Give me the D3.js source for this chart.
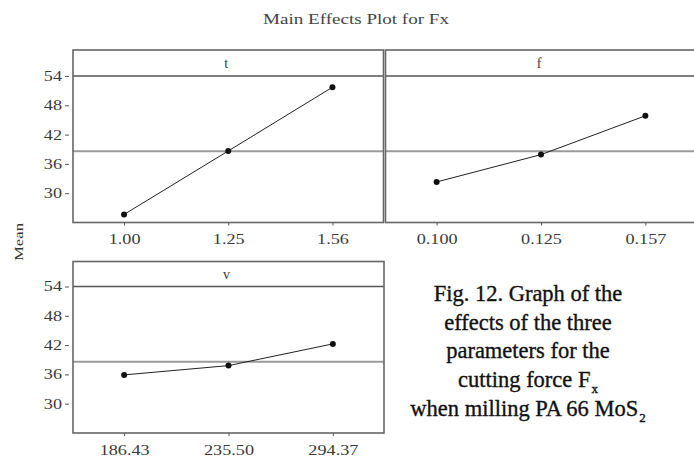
<!DOCTYPE html>
<html>
<head>
<meta charset="utf-8">
<script src="https://cdn.jsdelivr.net/npm/d3@7"></script>
<style>
  html, body { margin: 0; padding: 0; background: #fff; }
  svg { display: block; }
  text { font-family: "Liberation Serif", "Times New Roman", serif; }
</style>
</head>
<body>
<svg id="chart" width="694" height="461"></svg>
<script>
// Factor levels and fitted means for the cutting force Fx
const factorNames = ["t", "f", "v"];
const tLevels = ["1.00", "1.25", "1.56"];
const tMeans = [25.65, 38.65, 51.7];
const fLevels = ["0.100", "0.125", "0.157"];
const fMeans = [32.3, 37.9, 45.85];
const vLevels = ["186.43", "235.50", "294.37"];
const vMeans = [35.9, 37.8, 42.25];
const yTicks = [30, 36, 42, 48, 54];
const grandMean = 38.6;
const yDomain = [24, 54];

const captionLines = [
  ["Fig. 12. Graph of the"],
  ["effects of the three"],
  ["parameters for the"],
  ["cutting force F", "x"],
  ["when milling PA 66 MoS", "2"]
];

const svg = d3.select("#chart");

// Panel frames: each holds one factor
const panels = [
  { name: factorNames[0], levels: tLevels, means: tMeans, x: 73, y: 50, w: 310.5, h: 172.5, strip: 26, showY: true },
  { name: factorNames[1], levels: fLevels, means: fMeans, x: 385.5, y: 50, w: 311, h: 172.5, strip: 26, showY: false },
  { name: factorNames[2], levels: vLevels, means: vMeans, x: 73, y: 261.5, w: 311, h: 171.5, strip: 25, showY: true }
];

const tickScale = 1.3;

panels.forEach(p => {
  const g = svg.append("g");
  const bottom = p.y + p.h;
  const stripBottom = p.y + p.strip;

  const x = d3.scalePoint().domain(p.levels).range([p.x, p.x + p.w]).padding(0.49);
  const y = d3.scaleLinear().domain(yDomain).range([bottom, stripBottom]);

  // grand-mean reference line
  g.append("line")
    .attr("x1", p.x).attr("x2", p.x + p.w)
    .attr("y1", y(grandMean)).attr("y2", y(grandMean))
    .attr("stroke", "#9a9a9a").attr("stroke-width", 2);

  // strip separator
  g.append("line")
    .attr("x1", p.x).attr("x2", p.x + p.w)
    .attr("y1", stripBottom).attr("y2", stripBottom)
    .attr("stroke", "#555").attr("stroke-width", 1.4);

  // panel frame
  g.append("rect")
    .attr("x", p.x).attr("y", p.y)
    .attr("width", p.w).attr("height", p.h)
    .attr("fill", "none").attr("stroke", "#666").attr("stroke-width", 1.6);

  // strip label
  g.append("text")
    .attr("x", p.x + p.w / 2 - 2).attr("y", p.y + p.strip / 2 + 5)
    .attr("text-anchor", "middle")
    .attr("font-size", 14).attr("fill", "#3a3a3a")
    .text(p.name);

  // x axis
  const xa = g.append("g")
    .attr("transform", `translate(0,${bottom})`)
    .call(d3.axisBottom(x).tickSize(3).tickPadding(9));
  xa.select(".domain").remove();
  xa.selectAll(".tick line").attr("stroke", "#555");
  xa.selectAll(".tick text")
    .attr("font-family", "Liberation Serif, serif")
    .attr("font-size", 14).attr("fill", "#3a3a3a")
    .attr("transform", `scale(${tickScale},1)`);

  // y axis
  if (p.showY) {
    const ya = g.append("g")
      .attr("transform", `translate(${p.x},0)`)
      .call(d3.axisLeft(y).tickValues(yTicks).tickSize(4).tickPadding(7));
    ya.select(".domain").remove();
    ya.selectAll(".tick line").attr("stroke", "#555").attr("x1", -8).attr("x2", -4);
    ya.selectAll(".tick text")
      .attr("font-family", "Liberation Serif, serif")
      .attr("font-size", 14).attr("fill", "#3a3a3a")
      .attr("x", -11 / tickScale)
      .attr("transform", `scale(${tickScale},1)`);
  }

  // mean line and points
  const pts = p.levels.map((lv, i) => [x(lv), y(p.means[i])]);
  g.append("path")
    .attr("d", d3.line()(pts))
    .attr("fill", "none").attr("stroke", "#222").attr("stroke-width", 1);
  g.selectAll("circle.pt").data(pts).join("circle")
    .attr("class", "pt")
    .attr("cx", d => d[0]).attr("cy", d => d[1])
    .attr("r", 3).attr("fill", "#111");
});

// title
svg.append("text")
  .attr("x", 356).attr("y", 24)
  .attr("text-anchor", "middle")
  .attr("font-size", 14).attr("fill", "#444")
  .attr("textLength", 186).attr("lengthAdjust", "spacingAndGlyphs")
  .text("Main Effects Plot for Fx");

// y-axis title
svg.append("text")
  .attr("transform", "translate(23,242) rotate(-90)")
  .attr("text-anchor", "middle")
  .attr("font-size", 12).attr("fill", "#333")
  .attr("textLength", 38).attr("lengthAdjust", "spacingAndGlyphs")
  .text("Mean");

// caption
const cap = svg.append("text")
  .attr("text-anchor", "middle")
  .attr("font-size", 22.5).attr("fill", "#111")
  .attr("stroke", "#111").attr("stroke-width", 0.35);
captionLines.forEach((ln, i) => {
  const line = cap.append("tspan")
    .attr("x", 528).attr("y", 301 + i * 28.7);
  line.append("tspan").text(ln[0]);
  if (ln[1]) {
    line.append("tspan").attr("font-size", 13).attr("dx", 1).attr("dy", 6).text(ln[1]);
  }
});
</script>
</body>
</html>
